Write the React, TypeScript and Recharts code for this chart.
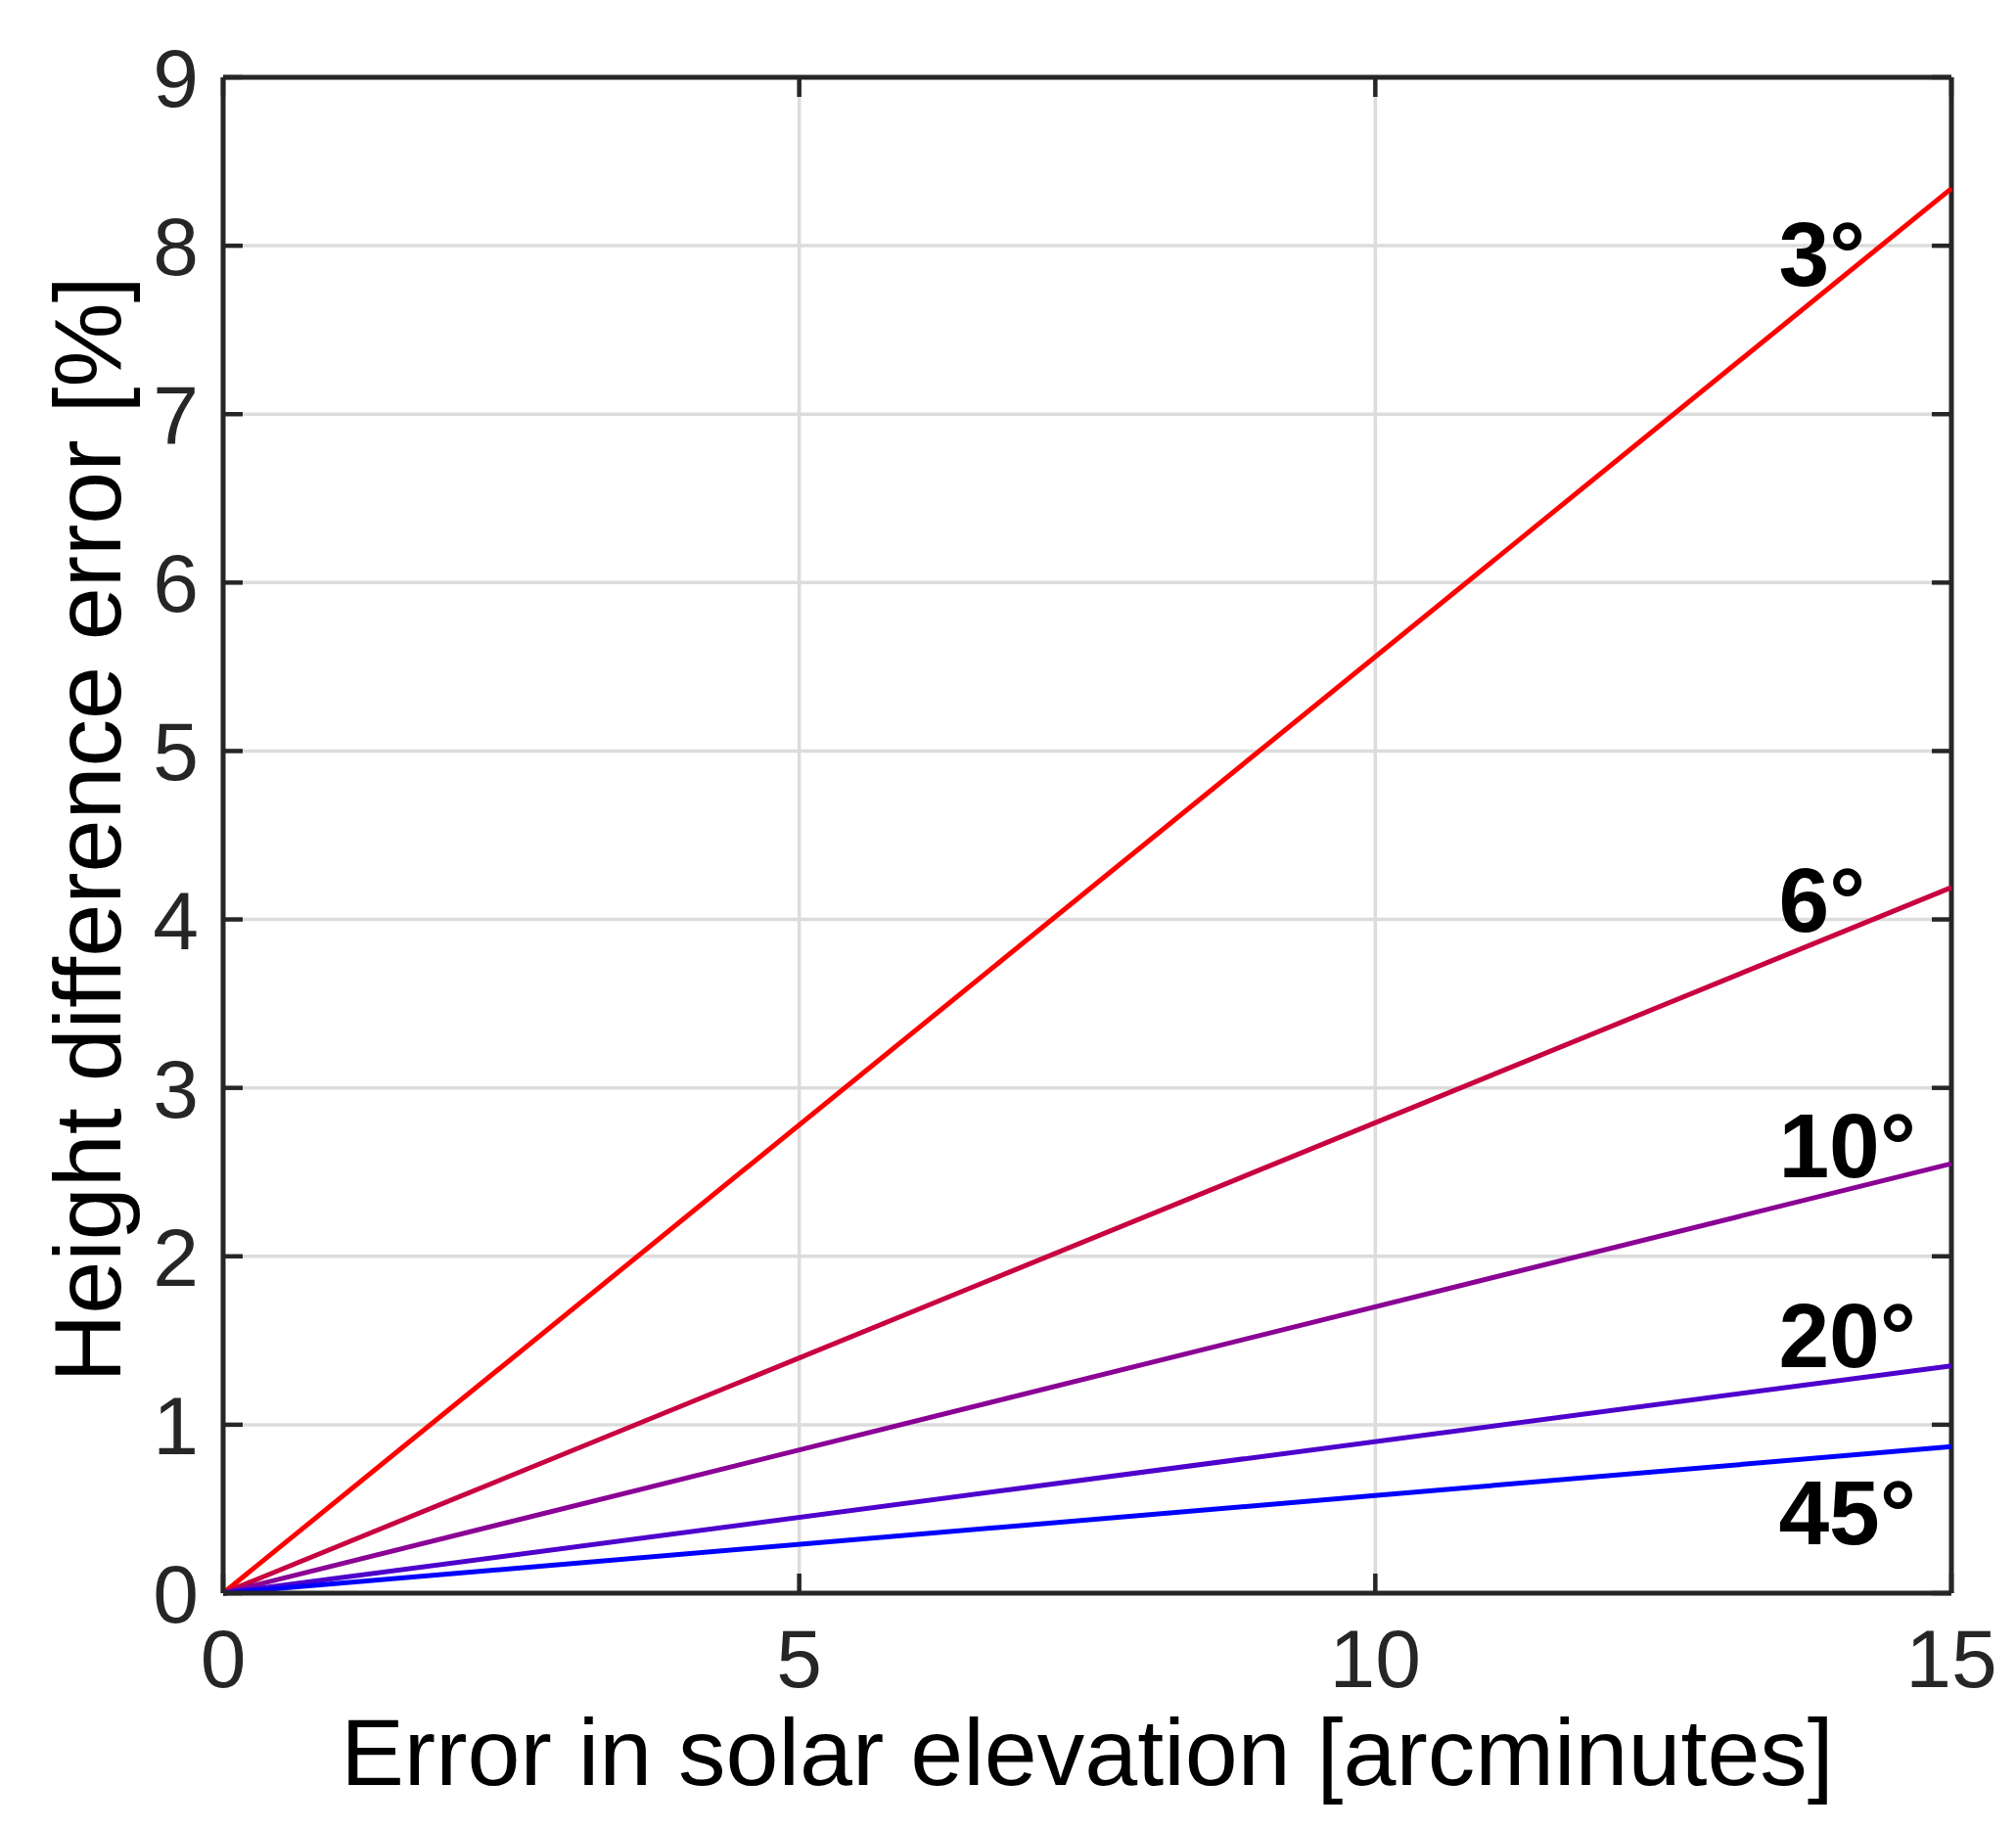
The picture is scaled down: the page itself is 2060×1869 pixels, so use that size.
import React from 'react';
import { LineChart, Line, XAxis, YAxis, CartesianGrid, ReferenceLine, Scatter } from 'recharts';

// Error in solar elevation [arcminutes]
const xValues = [0, 15];
// Height difference error [%] for each solar elevation angle
const err3 = [0, 8.34];
const err6 = [0, 4.19];
const err10 = [0, 2.55];
const err20 = [0, 1.35];
const err45 = [0, 0.87];

const seriesNames = ['3°', '6°', '10°', '20°', '45°'];
const seriesColors = ['#ff0000', '#c80040', '#8a0094', '#4e00cc', '#0000ff'];
const seriesValues = [err3, err6, err10, err20, err45];

// label anchor positions (data units)
const labelX = [13.5, 13.5, 13.5, 13.5, 13.5];
const labelY = [7.76, 3.93, 2.47, 1.34, 0.29];

const xTicks = [0, 5, 10, 15];
const yTicks = [0, 1, 2, 3, 4, 5, 6, 7, 8, 9];

const data = xValues.map((x, i) => {
  const row: any = { x };
  seriesNames.forEach((n, k) => (row['s' + k] = seriesValues[k][i]));
  return row;
});

const labelData = seriesNames.map((n, k) => ({ x: labelX[k], y: labelY[k], name: n }));

const W = 2060;
const H = 1869;
const PL = 228;
const PR = 1994;
const PT = 79;
const PB = 1628;
const AX = '#262626';
const FONT = '"Liberation Sans", Arial, sans-serif';
const TL = 20;

const XTick = (props: any) => {
  const { payload } = props;
  const c = payload.coordinate;
  return (
    <g>
      <line x1={c} x2={c} y1={PB} y2={PB - TL} stroke={AX} strokeWidth={4.5} />
      <line x1={c} x2={c} y1={PT} y2={PT + TL} stroke={AX} strokeWidth={4.5} />
      <text x={c} y={1724} textAnchor="middle" fontSize={84} fontFamily={FONT} fill={AX}>
        {payload.value}
      </text>
    </g>
  );
};

const YTick = (props: any) => {
  const { payload } = props;
  const c = payload.coordinate;
  return (
    <g>
      <line x1={PL} x2={PL + TL} y1={c} y2={c} stroke={AX} strokeWidth={4.5} />
      <line x1={PR} x2={PR - TL} y1={c} y2={c} stroke={AX} strokeWidth={4.5} />
      <text x={203} y={c + 30} textAnchor="end" fontSize={84} fontFamily={FONT} fill={AX}>
        {payload.value}
      </text>
    </g>
  );
};

const LabelShape = (props: any) => {
  const { cx, cy, payload } = props;
  return (
    <text x={cx} y={cy} fontSize={93} fontWeight="bold" fontFamily={FONT} fill="#000">
      {payload.name}
    </text>
  );
};

export default function App() {
  return (
    <div style={{ position: 'absolute', left: 0, top: 0, width: W, height: H, background: '#fff' }}>
      <LineChart
        width={W}
        height={H}
        data={data}
        margin={{ top: PT, right: W - PR, bottom: 0, left: 0 }}
      >
        <CartesianGrid stroke="#dcdcdc" strokeWidth={3.5} />
        <XAxis
          dataKey="x"
          type="number"
          domain={[0, 15]}
          ticks={xTicks}
          height={H - PB}
          axisLine={{ stroke: AX, strokeWidth: 5 }}
          tickLine={false}
          tick={<XTick />}
          interval={0}
        />
        <YAxis
          type="number"
          domain={[0, 9]}
          ticks={yTicks}
          width={PL}
          axisLine={{ stroke: AX, strokeWidth: 5 }}
          tickLine={false}
          tick={<YTick />}
          interval={0}
        />
        <ReferenceLine y={9} stroke={AX} strokeWidth={5} />
        <ReferenceLine x={15} stroke={AX} strokeWidth={5} />
        {seriesNames.map((n, k) => (
          <Line
            key={n}
            dataKey={'s' + k}
            stroke={seriesColors[k]}
            strokeWidth={5}
            dot={false}
            isAnimationActive={false}
          />
        ))}
        <Scatter data={labelData} dataKey="y" shape={<LabelShape />} isAnimationActive={false} />
        <text x={(PL + PR) / 2} y={1824} textAnchor="middle" fontSize={97} fontFamily={FONT} fill="#000">
          Error in solar elevation [arcminutes]
        </text>
        <text
          x={0}
          y={0}
          transform={`translate(123, ${(PT + PB) / 2 - 6}) rotate(-90)`}
          textAnchor="middle"
          fontSize={97}
          fontFamily={FONT}
          fill="#000"
        >
          Height difference error [%]
        </text>
      </LineChart>
    </div>
  );
}
